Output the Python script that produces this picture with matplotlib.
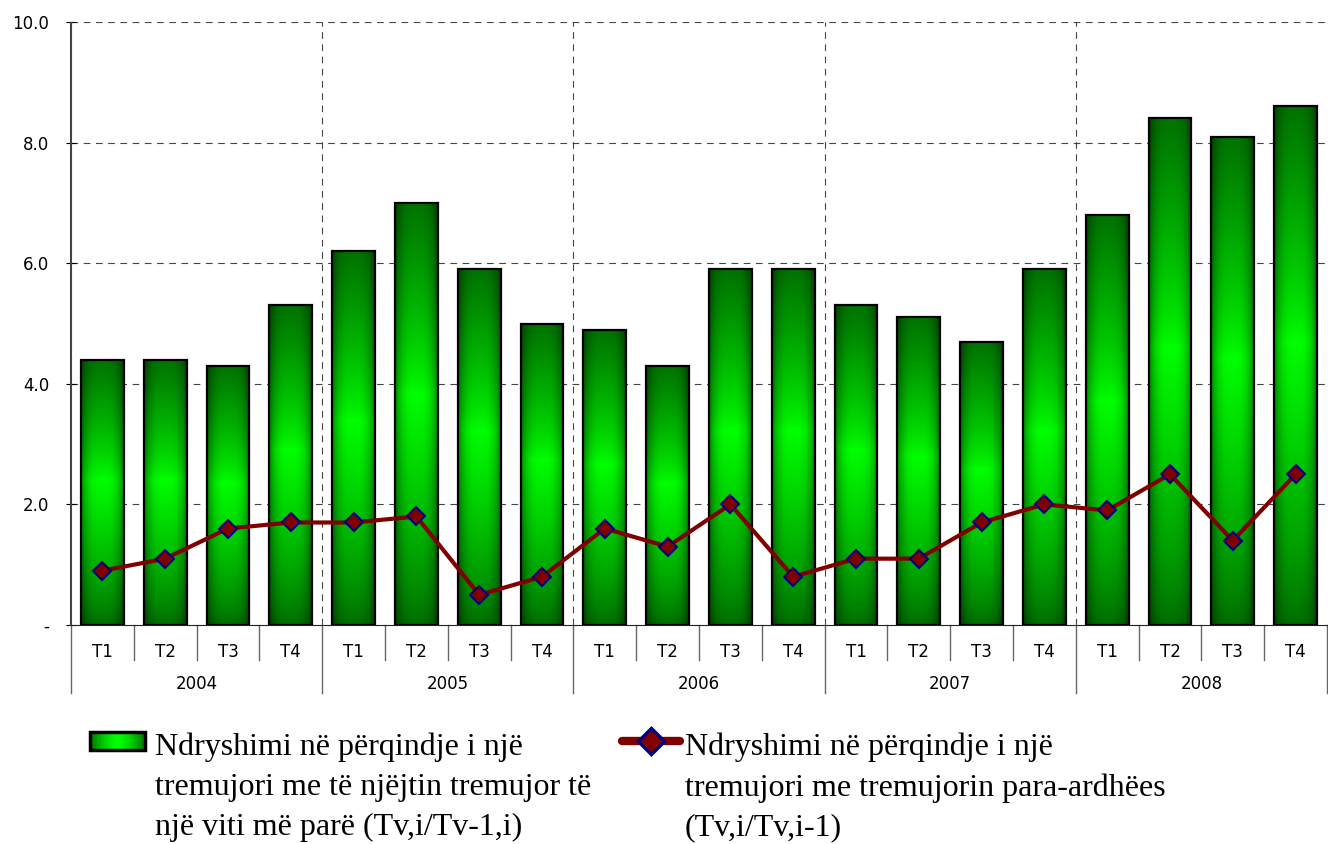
import numpy as np
import matplotlib.pyplot as plt
from matplotlib.patches import Rectangle
from matplotlib.lines import Line2D

# --- Daten ---
vitet = ["2004", "2005", "2006", "2007", "2008"]
tremujoret = ["T1", "T2", "T3", "T4"]
ndr_vjetor = [4.4, 4.4, 4.3, 5.3,
              6.2, 7.0, 5.9, 5.0,
              4.9, 4.3, 5.9, 5.9,
              5.3, 5.1, 4.7, 5.9,
              6.8, 8.4, 8.1, 8.6]
ndr_tremujor = [0.9, 1.1, 1.6, 1.7,
                1.7, 1.8, 0.5, 0.8,
                1.6, 1.3, 2.0, 0.8,
                1.1, 1.1, 1.7, 2.0,
                1.9, 2.5, 1.4, 2.5]
y_ticks = [0, 2, 4, 6, 8, 10]
y_labels = ["-", "2.0", "4.0", "6.0", "8.0", "10.0"]
leg1 = "Ndryshimi në përqindje i një\ntremujori me të njëjtin tremujor të\nnjë viti më parë (Tv,i/Tv-1,i)"
leg2 = "Ndryshimi në përqindje i një\ntremujori me tremujorin para-ardhëes\n(Tv,i/Tv,i-1)"

W, H = 1328, 844
fig = plt.figure(figsize=(W / 100, H / 100), dpi=100)
ax = fig.add_axes([71 / W, 1 - 625 / H, (1327 - 71) / W, (625 - 22) / H])


def fx(px):
    return px / W


def fy(py):
    return 1 - py / H


# Farbverlauf für die Balken
def gradient(nv=200, nh=60):
    t = np.linspace(0, 1, nv)[:, None]          # 0 = unten, 1 = oben
    s = np.linspace(0, 1, nh)[None, :]
    peak = 0.55
    v = np.where(t < peak, 0.42 + 0.58 * (t / peak) ** 0.8,
                 1.0 - 0.55 * ((t - peak) / (1 - peak)) ** 0.8)
    h = 1 - 0.45 * np.abs(2 * s - 1) ** 3
    g = np.clip(v * h, 0, 1)
    img = np.zeros((nv, nh, 3))
    img[..., 1] = g
    return img[::-1]


grad = gradient()
x = np.arange(len(ndr_vjetor))
bw = 0.68
for xi, val in zip(x, ndr_vjetor):
    rect = Rectangle((xi - bw / 2, 0), bw, val, facecolor="none",
                     edgecolor="black", lw=1.6, zorder=3)
    ax.add_patch(rect)
    im = ax.imshow(grad, extent=[xi - bw / 2, xi + bw / 2, 0, val],
                   aspect="auto", zorder=2, interpolation="bilinear")
    im.set_clip_path(rect)

ax.plot(x, ndr_tremujor, color="#800000", lw=3, marker="D", ms=9,
        mfc="#800000", mec="#000080", mew=1.5, zorder=4)

ax.set_xlim(-0.5, len(x) - 0.5)
ax.set_ylim(0, 10)

# Gitter
for yv in y_ticks[1:]:
    ax.axhline(yv, color="#444444", lw=0.8, dashes=(6, 5), zorder=1)
for k in range(1, len(vitet)):
    ax.axvline(4 * k - 0.5, color="#444444", lw=0.8, dashes=(6, 5), zorder=1)

for sp in ["top", "right"]:
    ax.spines[sp].set_visible(False)
ax.spines["left"].set_color("#444444")
ax.spines["left"].set_linestyle((0, (4, 1)))
ax.spines["left"].set_linewidth(1.5)
ax.spines["bottom"].set_color("#222222")

ax.set_yticks(y_ticks)
ax.set_yticklabels(y_labels, fontfamily="DejaVu Sans", fontsize=12)
ax.tick_params(axis="y", direction="inout", length=7, pad=12)

# Kategorienachse
ax.set_xticks(x)
ax.set_xticklabels(tremujoret * len(vitet), fontfamily="DejaVu Sans", fontsize=12)
ax.tick_params(axis="x", length=0, pad=13)
xt = ax.get_xaxis_transform()
for b in range(len(x) + 1):
    if b % 4 == 0:
        ax.plot([b - 0.5, b - 0.5], [0, -0.113], color="#666666", lw=1,
                transform=xt, clip_on=False)
    else:
        ax.plot([b - 0.5, b - 0.5], [0, -0.058], color="#666666", lw=1,
                transform=xt, clip_on=False)
for k, v in enumerate(vitet):
    ax.text(4 * k + 1.5, -0.098, v, transform=xt, ha="center", va="center",
            fontfamily="DejaVu Sans", fontsize=12)

# Legende (manuell)
n = 40
for i in range(n):
    s = i / (n - 1)
    g = 0.45 + 0.55 * (1 - abs(2 * s - 1) ** 1.5)
    fig.patches.append(Rectangle((fx(90 + 55 * i / n), fy(750)), fx(55 / n) + 0.0005,
                                 fy(732) - fy(750), facecolor=(0, g, 0),
                                 edgecolor="none", transform=fig.transFigure))
fig.patches.append(Rectangle((fx(90), fy(750)), fx(55), fy(732) - fy(750),
                             facecolor="none", edgecolor="black", lw=2.5,
                             transform=fig.transFigure))
fig.lines.append(Line2D([fx(622), fx(680)], [fy(741), fy(741)], color="#800000",
                        lw=6, solid_capstyle="round", transform=fig.transFigure))
fig.lines.append(Line2D([fx(651)], [fy(741)], marker="D", ms=13, mfc="#800000",
                        mec="#000080", mew=2.5, transform=fig.transFigure))

fig.text(fx(155), fy(733), leg1, ha="left", va="top", fontfamily="Liberation Serif",
         fontsize=23, linespacing=1.48)
fig.text(fx(685), fy(733), leg2, ha="left", va="top", fontfamily="Liberation Serif",
         fontsize=23, linespacing=1.48)

fig.savefig("out.png", dpi=100)
